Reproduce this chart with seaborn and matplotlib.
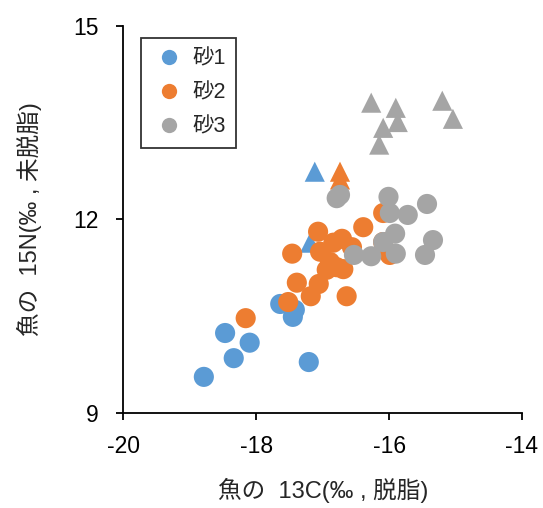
import numpy as np
import pandas as pd
import matplotlib
matplotlib.use('Agg')
import matplotlib.pyplot as plt
from matplotlib.lines import Line2D
import seaborn as sns

# 砂1
sand1_c_x = [-18.79, -18.47, -18.34, -18.10, -17.21, -17.64, -17.42, -17.45]
sand1_c_y = [9.56, 10.24, 9.85, 10.09, 9.79, 10.69, 10.60, 10.49]
sand1_t_x = [-17.12, -17.19]
sand1_t_y = [12.74, 11.64]

# 砂2
sand2_c_x = [-18.16, -17.52, -17.39, -17.18, -17.06, -17.46, -17.07, -16.64, -16.39,
             -16.09, -16.69, -17.04, -16.84, -16.71, -16.56, -16.89, -16.94, -16.79,
             -15.99, -16.09]
sand2_c_y = [10.47, 10.72, 11.02, 10.81, 11.00, 11.47, 11.81, 10.81, 11.88,
             12.10, 11.23, 11.50, 11.64, 11.70, 11.57, 11.34, 11.22, 11.26,
             11.45, 11.65]
sand2_t_x = [-16.74, -16.74]
sand2_t_y = [12.74, 12.62]

# 砂3
sand3_c_x = [-16.79, -16.74, -16.01, -15.99, -15.72, -15.43, -15.91, -16.09, -15.90,
             -15.34, -15.46, -16.53, -16.27]
sand3_c_y = [12.33, 12.38, 12.35, 12.10, 12.07, 12.24, 11.78, 11.65, 11.47,
             11.68, 11.45, 11.45, 11.43]
sand3_t_x = [-16.27, -15.90, -15.87, -16.09, -16.15, -15.20, -15.04]
sand3_t_y = [13.81, 13.73, 13.51, 13.42, 13.16, 13.84, 13.56]

groups = ['砂1', '砂2', '砂3']
colors = ['#5B9BD5', '#ED7D31', '#A5A5A5']

rows = []
for g, cx, cy, tx, ty in [
    ('砂1', sand1_c_x, sand1_c_y, sand1_t_x, sand1_t_y),
    ('砂2', sand2_c_x, sand2_c_y, sand2_t_x, sand2_t_y),
    ('砂3', sand3_c_x, sand3_c_y, sand3_t_x, sand3_t_y),
]:
    for x, y in zip(tx, ty):
        rows.append((g, 'tri', x, y))
    for x, y in zip(cx, cy):
        rows.append((g, 'circ', x, y))
df = pd.DataFrame(rows, columns=['group', 'shape', 'x', 'y'])

sns.set_style('white')
plt.rcParams['font.family'] = ['Liberation Sans', 'Noto Sans CJK JP', 'DejaVu Sans']

fig = plt.figure(figsize=(5.43, 5.08), dpi=100)
ax = fig.add_axes([0.2274, 0.187, 0.7339, 0.762])

sns.scatterplot(data=df, x='x', y='y', hue='group', style='shape',
                palette=dict(zip(groups, colors)),
                markers={'circ': 'o', 'tri': '^'},
                s=210, linewidth=0, alpha=1, legend=False, ax=ax)

ax.set_xlim(-20, -14)
ax.set_ylim(9, 15)
ax.set_xticks([-20, -18, -16, -14])
ax.set_yticks([9, 12, 15])
ax.set_xticklabels(['-20', '-18', '-16', '-14'])
for s in ['top', 'right']:
    ax.spines[s].set_visible(False)
for s in ['left', 'bottom']:
    ax.spines[s].set_color('black')
    ax.spines[s].set_linewidth(1.3)
ax.tick_params(axis='both', which='both', direction='out', length=5, width=1.3,
               colors='black', labelsize=16.5, left=True, bottom=True)
ax.tick_params(axis='y', pad=13)
ax.tick_params(axis='x', pad=11)
ax.set_xlabel('魚の  13C(‰ , 脱脂)', fontsize=17, labelpad=14)
ax.set_ylabel('魚の  15N(‰ , 未脱脂)', fontsize=17, labelpad=22)

# legend shows circles only
handles = [Line2D([], [], marker='o', linestyle='none', markersize=11,
                  markerfacecolor=c, markeredgecolor='none') for c in colors]
leg = ax.legend(handles, groups, loc='upper left', bbox_to_anchor=(0.045, 0.97),
                fontsize=15.5, frameon=True, fancybox=False, labelspacing=0.6,
                handletextpad=0.25, borderpad=0.5, handlelength=1.6,
                borderaxespad=0)
leg.get_frame().set_edgecolor('black')
leg.get_frame().set_linewidth(1.3)

fig.savefig('out.png', dpi=100)
